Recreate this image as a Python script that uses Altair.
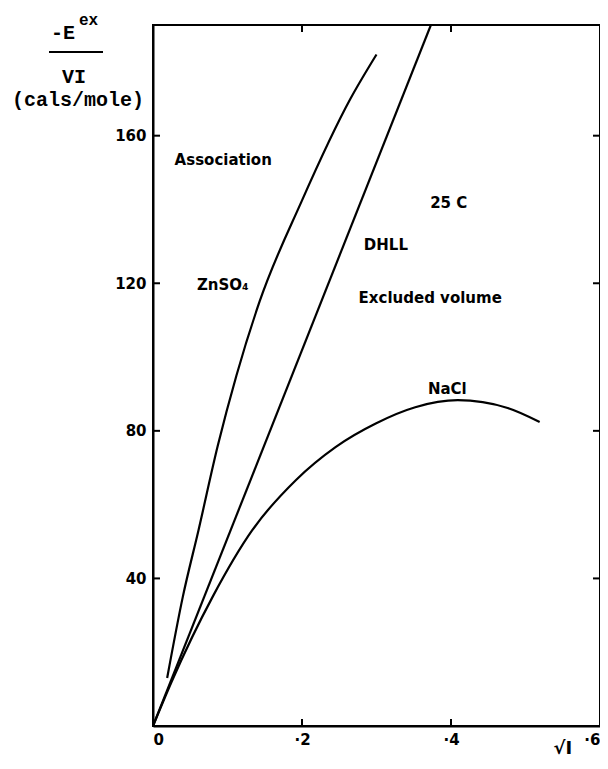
import altair as alt
import pandas as pd

# ---- data ----
zn_x = [0.019, 0.040, 0.061, 0.087, 0.112, 0.143, 0.199, 0.265, 0.300]
zn_y = [13, 35, 53, 76, 95, 115, 142, 170, 182]
dhll_x = [0.0, 0.373]
dhll_y = [0, 190]
nacl_x = [0.0, 0.025, 0.080, 0.133, 0.192, 0.245, 0.299, 0.352, 0.409, 0.476, 0.519]
nacl_y = [0, 12, 35, 53, 66.7, 75.6, 82, 86.4, 88.3, 86.2, 82.4]

x_tick_values = [0, 0.2, 0.4, 0.6]
y_tick_values = [40, 80, 120, 160]
inner_x_ticks = [0.2, 0.4]

label_text = ["Association", "ZnSO₄", "DHLL", "25 C", "Excluded volume", "NaCl"]
label_x = [0.029, 0.059, 0.283, 0.372, 0.276, 0.369]
label_y = [153.4, 119.5, 130.4, 141.7, 116.0, 91.3]

W, H = 447, 701
XDOM = [0, 0.6]
YDOM = [0, 190]

rows = []
for name, xs, ys in [("ZnSO4", zn_x, zn_y), ("DHLL", dhll_x, dhll_y), ("NaCl", nacl_x, nacl_y)]:
    for a, b in zip(xs, ys):
        rows.append({"series": name, "x": a, "y": b})
df = pd.DataFrame(rows)

xscale = alt.Scale(domain=XDOM, nice=False)
yscale = alt.Scale(domain=YDOM, nice=False)

xaxis = alt.Axis(values=x_tick_values, ticks=False, grid=False, domainColor="black",
                 domainWidth=2, labelFont="DejaVu Sans", labelFontWeight="bold",
                 labelFontSize=15, labelColor="black", labelPadding=6, title=None,
                 labelExpr="datum.value == 0 ? '0' : replace(format(datum.value, '.1f'), '0.', '·')")
yaxis = alt.Axis(values=y_tick_values, ticks=False, grid=False, domainColor="black",
                 domainWidth=2, labelFont="DejaVu Sans", labelFontWeight="bold",
                 labelFontSize=15, labelColor="black", labelPadding=7, title=None)

lines = alt.Chart(df).mark_line(color="black", strokeWidth=2.2, interpolate="monotone", clip=True).encode(
    x=alt.X("x:Q", scale=xscale, axis=xaxis),
    y=alt.Y("y:Q", scale=yscale, axis=yaxis),
    detail="series:N",
)

labels_df = pd.DataFrame({"t": label_text, "x": label_x, "y": label_y})
labels = alt.Chart(labels_df).mark_text(
    align="left", baseline="middle", font="DejaVu Sans", fontWeight="bold", fontSize=15, color="black"
).encode(x=alt.X("x:Q", scale=xscale), y=alt.Y("y:Q", scale=yscale), text="t:N")

xt = pd.DataFrame({"v": inner_x_ticks})
yt = pd.DataFrame({"v": y_tick_values})
TL = 7
tick_bottom = alt.Chart(xt).mark_rule(color="black", strokeWidth=2).encode(
    x=alt.X("v:Q", scale=xscale), y=alt.value(H), y2=alt.value(H - TL))
tick_top = alt.Chart(xt).mark_rule(color="black", strokeWidth=2).encode(
    x=alt.X("v:Q", scale=xscale), y=alt.value(0), y2=alt.value(TL))
tick_left = alt.Chart(yt).mark_rule(color="black", strokeWidth=2).encode(
    y=alt.Y("v:Q", scale=yscale), x=alt.value(0), x2=alt.value(TL))
tick_right = alt.Chart(yt).mark_rule(color="black", strokeWidth=2).encode(
    y=alt.Y("v:Q", scale=yscale), x=alt.value(W), x2=alt.value(W - TL))

one = pd.DataFrame({"a": [0]})
mono = "Liberation Mono"
t_E = alt.Chart(one).mark_text(font=mono, fontWeight="bold", fontSize=20, align="center",
                               baseline="middle", color="black").encode(
    x=alt.value(-90), y=alt.value(8), text=alt.value("-E"))
t_ex = alt.Chart(one).mark_text(font=mono, fontWeight="bold", fontSize=16, align="left",
                                baseline="middle", color="black").encode(
    x=alt.value(-74), y=alt.value(-5), text=alt.value("ex"))
t_bar = alt.Chart(one).mark_rule(color="black", strokeWidth=2).encode(
    x=alt.value(-104), x2=alt.value(-50), y=alt.value(27))
t_VI = alt.Chart(one).mark_text(font=mono, fontWeight="bold", fontSize=20, align="center",
                                baseline="middle", color="black").encode(
    x=alt.value(-79), y=alt.value(52), text=alt.value("VI"))
t_units = alt.Chart(one).mark_text(font=mono, fontWeight="bold", fontSize=20, align="center",
                                   baseline="middle", color="black").encode(
    x=alt.value(-75), y=alt.value(75), text=alt.value("(cals/mole)"))

sqrt_df = pd.DataFrame({"x": [0.55], "t": ["√I"]})
t_sqrt = alt.Chart(sqrt_df).mark_text(font="DejaVu Sans", fontWeight="bold", fontSize=18,
                                      align="center", baseline="middle", color="black").encode(
    x=alt.X("x:Q", scale=xscale), y=alt.value(H + 23), text="t:N")

chart = alt.layer(
    lines, labels, tick_bottom, tick_top, tick_left, tick_right,
    t_E, t_ex, t_bar, t_VI, t_units, t_sqrt
).properties(
    width=W, height=H,
    autosize=alt.AutoSizeParams(type="none"),
    padding={"left": 145, "top": 17, "right": 0, "bottom": 35},
    background="white",
).configure_view(stroke="black", strokeWidth=2)

chart.save("out.html", embed_options={"renderer": "svg", "actions": False})
